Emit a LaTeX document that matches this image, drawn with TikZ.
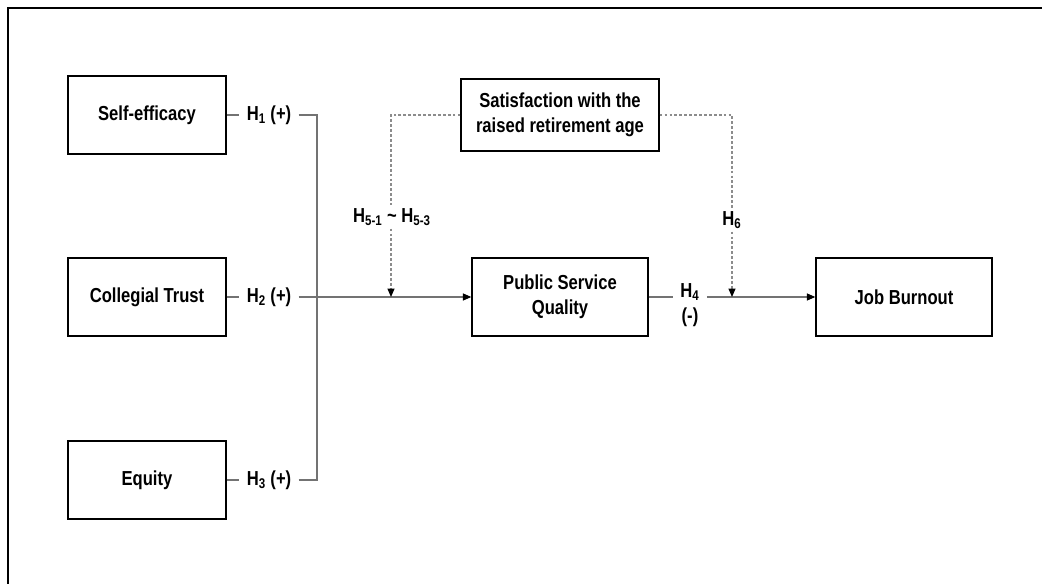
\documentclass[tikz,border=0pt]{standalone}
\usepackage{fontspec}
\setmainfont[FakeStretch=0.82]{Liberation Sans}
\usetikzlibrary{arrows.meta}

\tikzset{
  txt/.style={font=\fontsize{14.4}{17.7}\selectfont\bfseries, align=center},
  var/.style={txt, draw=black, line width=0.9pt, minimum width=3.95cm, minimum height=1.95cm},
  hyp/.style={txt, inner xsep=5pt, inner ysep=2pt},
  link/.style={draw=black!55, line width=0.8pt},
  moder/.style={draw=black!45, line width=0.8pt, dash pattern=on 2pt off 1.5pt},
  arr/.style={-{Triangle[length=6pt,width=5pt,black]}}
}

\begin{document}
\begin{tikzpicture}[x=0.025cm, y=-0.025cm]
  \useasboundingbox (0,0) rectangle (1042,584);

  % Frame
  \draw[line width=1.2pt] (1042,8) -- (8,8) -- (8,584);

  % Independent variables
  \node[var] (self) at (147,115) {Self-efficacy};
  \node[var] (trust) at (147,297) {Collegial Trust};
  \node[var] (equity) at (147,480) {Equity};

  % Mediator, outcome and moderator
  \node[var, minimum width=4.4cm] (psq) at (560,297) {Public Service\\Quality};
  \node[var, minimum width=4.4cm] (burn) at (904,297) {Job Burnout};
  \node[var, minimum width=4.95cm, minimum height=1.8cm] (sat) at (560,115) {Satisfaction with the\\raised retirement age};

  % Hypothesis labels
  \node[hyp] (h1) at (269,115) {H\textsubscript{1} (+)};
  \node[hyp] (h2) at (269,297) {H\textsubscript{2} (+)};
  \node[hyp] (h3) at (269,480) {H\textsubscript{3} (+)};
  \node[hyp] (h4) at (690,305) {H\textsubscript{4}\\(-)};
  \node[hyp] (h5) at (392,217) {H\textsubscript{5-1} \textasciitilde{} H\textsubscript{5-3}};
  \node[hyp] (h6) at (732,220) {H\textsubscript{6}};

  % Junctions
  \coordinate (jn) at (317,297);
  \coordinate (m1) at (391,297);
  \coordinate (m2) at (732,297);

  % Direct paths
  \draw[link] (self.east) -- (h1.west);
  \draw[link] (trust.east) -- (h2.west);
  \draw[link] (equity.east) -- (h3.west);
  \draw[link] (h1.east) -| (jn);
  \draw[link] (h3.east) -| (jn);
  \draw[link, arr] (h2.east) -- (psq.west);
  \draw[link] (psq.east) -- (psq.east -| h4.west);
  \draw[link, arr] (psq.east -| h4.east) -- (burn.west);

  % Moderating paths
  \draw[moder] (sat.west) -| (m1 |- h5.north);
  \draw[moder, arr] (m1 |- h5.south) -- (m1);
  \draw[moder] (sat.east) -| (h6.north);
  \draw[moder, arr] (h6.south) -- (m2);
\end{tikzpicture}
\end{document}
